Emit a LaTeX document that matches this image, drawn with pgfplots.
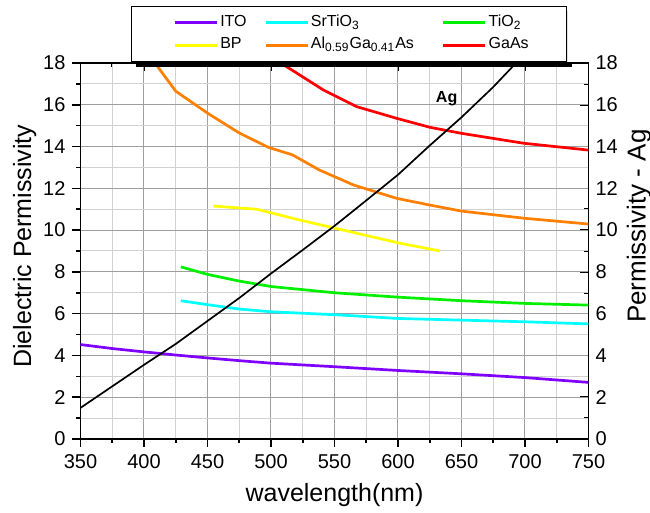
\documentclass[border=0pt]{standalone}
\usepackage{pgfplots}
\pgfplotsset{compat=1.18}
\usepackage{fontspec}
\setmainfont{Liberation Sans}
\definecolor{cITO}{HTML}{8000FF}
\definecolor{cSTO}{HTML}{00FFFF}
\definecolor{cTIO}{HTML}{00F000}
\definecolor{cBP}{HTML}{FFFF00}
\definecolor{cALG}{HTML}{FF8000}
\definecolor{cGAA}{HTML}{FF0000}
\begin{document}
\begin{tikzpicture}
\useasboundingbox (-40.25pt,-37pt) rectangle (284.75pt,219.5pt);
% right/top axis (ticks inside)
\begin{axis}[
  scale only axis, width=254pt, height=188pt,
  xmin=350, xmax=750, ymin=0, ymax=18,
  xtick={350,400,...,750}, ytick={0,2,...,18},
  minor x tick num=1, minor y tick num=1,
  xtick pos=upper, ytick pos=upper, yticklabel pos=upper,
  xticklabels={},
  tick align=inside,
  major tick length=4pt, minor tick length=2pt,
  axis line style={line width=0.8pt},
  every tick/.style={black, line width=0.8pt},
  /pgf/number format/assume math mode=true,
  tick label style={font=\fontsize{10}{12}\selectfont},
  ylabel={Permissivity - Ag},
  ylabel style={font=\fontsize{13}{15}\selectfont, at={(axis description cs:1.099,0.566)}, anchor=center, rotate=0, inner sep=0pt},
]
\end{axis}
% main axis
\begin{axis}[
  scale only axis, width=254pt, height=188pt,
  xmin=350, xmax=750, ymin=0, ymax=18,
  xtick={350,400,...,750}, ytick={0,2,...,18},
  minor x tick num=1, minor y tick num=1,
  xtick pos=lower, ytick pos=lower,
  tick align=outside,
  major tick length=4pt, minor tick length=2pt,
  axis line style={line width=0.8pt},
  every tick/.style={black, line width=0.8pt},
  grid=both,
  major grid style={black!38, line width=0.5pt},
  minor grid style={black!18, line width=0.5pt},
  /pgf/number format/assume math mode=true,
  tick label style={font=\fontsize{10}{12}\selectfont},
  xlabel={wavelength(nm)},
  xlabel style={font=\fontsize{12.5}{15}\selectfont, at={(axis description cs:0.5,-0.149)}, anchor=center, inner sep=0pt},
  ylabel={Dielectric Permissivity},
  ylabel style={font=\fontsize{12.5}{15}\selectfont, at={(axis description cs:-0.110,0.513)}, anchor=center, inner sep=0pt},
  legend columns=3,
  legend image code/.code={\draw[#1] (0pt,0pt) -- (21pt,0pt);},
  legend style={name=leg, at={(axis description cs:0,1)}, anchor=north west,
    xshift=25.25pt, yshift=28.5pt,
    draw=black, line width=0.6pt, fill=white,
    font=\fontsize{8}{9.5}\selectfont,
    inner xsep=21pt, inner ysep=4.1pt,
    column sep=0pt, row sep=3.3pt,
    nodes={inner sep=0pt, text height=5.8pt, text depth=2.2pt, anchor=west},
    /tikz/every odd column/.append style={column sep=1pt}},
]
\addplot[cITO, line width=1.35pt] coordinates {
(350,4.52) (375,4.33) (400,4.17) (425,4.02) (450,3.88) (475,3.75) (500,3.63) (550,3.46) (600,3.28) (650,3.12) (700,2.94) (750,2.71)};
\addlegendentry{\makebox[22pt][l]{ITO}}
\addplot[cSTO, line width=1.35pt] coordinates {
(429,6.62) (450,6.43) (475,6.22) (500,6.09) (550,5.95) (600,5.77) (650,5.69) (700,5.61) (750,5.51)};
\addlegendentry{\makebox[65.5pt][l]{SrTiO\textsubscript{3}}}
\addplot[cTIO, line width=1.35pt] coordinates {
(429,8.24) (450,7.88) (475,7.56) (500,7.30) (550,7.0) (600,6.79) (650,6.62) (700,6.49) (750,6.41)};
\addlegendentry{\makebox[18pt][l]{TiO\textsubscript{2}}}
\addplot[cBP, line width=1.35pt] coordinates {
(454.6,11.15) (488.7,11.0) (522.8,10.48) (549.1,10.11) (601.6,9.37) (633.1,9.0)};
\addlegendentry{\makebox[22pt][l]{BP}}
\addplot[cALG, line width=1.35pt] coordinates {
(405,18.3) (425,16.65) (450,15.6) (475,14.65) (498,13.96) (517,13.6) (538,12.88) (565,12.16) (599,11.52) (625,11.2) (650,10.91) (699,10.57) (750,10.29)};
\addlegendentry{\makebox[65.5pt][l]{Al\textsubscript{0.59}Ga\textsubscript{0.41}As}}
\addplot[cGAA, line width=1.35pt] coordinates {
(505,18.1) (512.4,17.82) (541.2,16.71) (567.5,15.91) (599,15.35) (625.2,14.92) (650.2,14.63) (698.7,14.16) (750,13.83)};
\addlegendentry{\makebox[18pt][l]{GaAs}}
\addplot[black, line width=0.85pt, forget plot] coordinates {
(350,1.49) (375,2.52) (400,3.55) (425,4.55) (450,5.65) (475,6.75) (500,7.92) (525,9.05) (550,10.2) (575,11.42) (600,12.65) (625,14.05) (650,15.4) (675,16.85) (700,18.45)};
\node[font=\fontsize{8}{10}\selectfont\bfseries] at (axis cs:638.3,16.31) {Ag};
\end{axis}
\fill[black] ([shift={(2.5pt,-2.5pt)}]leg.south west) rectangle ([shift={(2.5pt,0pt)}]leg.south east);
\fill[black] ([shift={(0pt,-2.5pt)}]leg.north east) rectangle (leg.south east);
\end{tikzpicture}
\end{document}
